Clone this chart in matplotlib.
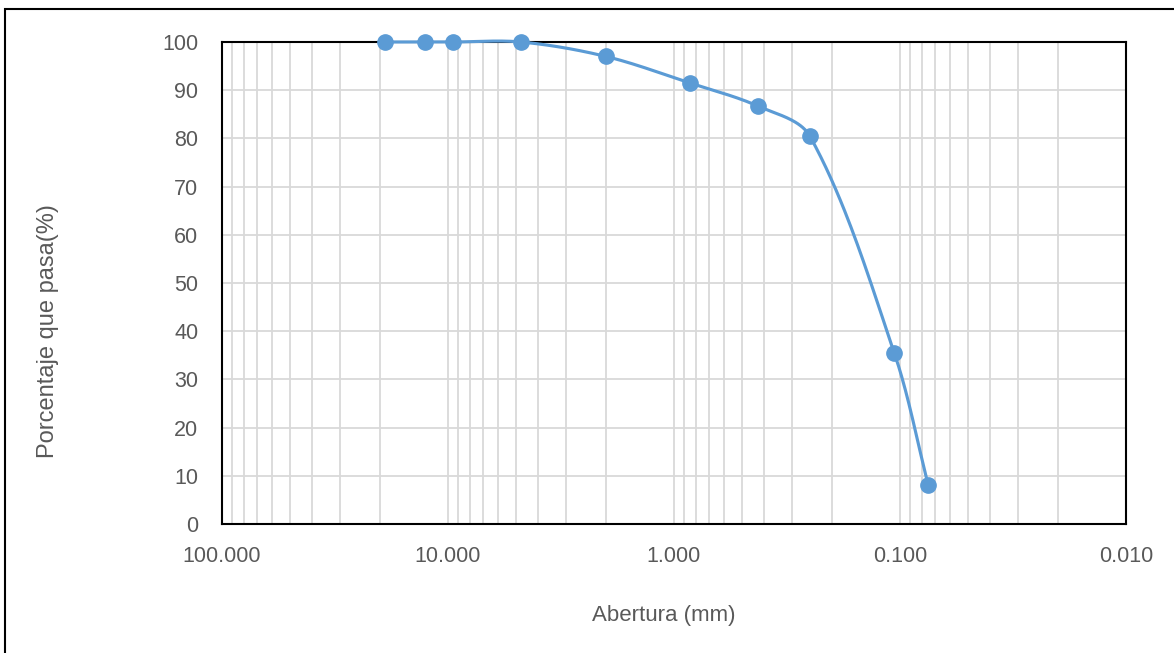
import numpy as np
import matplotlib
matplotlib.use("Agg")
import matplotlib.pyplot as plt
from matplotlib.ticker import FixedLocator, FuncFormatter, LogLocator, NullFormatter
from matplotlib.patches import Rectangle

# sieve openings (mm) and percent passing
abertura = [19.05, 12.7, 9.525, 4.75, 2.0, 0.85, 0.425, 0.25, 0.106, 0.075]
pasa = [100.0, 100.0, 100.0, 100.0, 97.0, 91.5, 86.7, 80.4, 35.5, 8.1]

xticks = [100, 10, 1, 0.1, 0.01]
yticks = list(range(0, 101, 10))

plt.rcParams['font.family'] = ['Liberation Sans', 'DejaVu Sans']
grey = '#595959'
blue = '#5B9BD5'

fig = plt.figure(figsize=(11.74, 6.53), dpi=100)
ax = fig.add_axes([222/1174, 1-524/653, (1126-222)/1174, (524-42)/653])

# smoothed line like excel (bezier, handles scaled by segment length)
sx = 226.0  # px per decade
sy = 4.82   # px per unit
px = np.log10(abertura) * sx
py = np.array(pasa) * sy
P = np.column_stack([px, py])
P = np.vstack([P[0], P, P[-1]])
curve = []
for i in range(1, len(P) - 2):
    p0, p1, p2, p3 = P[i-1], P[i], P[i+1], P[i+2]
    l0 = np.hypot(*(p1 - p0))
    l1 = np.hypot(*(p2 - p1))
    l2 = np.hypot(*(p3 - p2))
    c1 = p1 + (p2 - p0) * l1 / (l0 + l1) / 3.0
    c2 = p2 - (p3 - p1) * l1 / (l1 + l2) / 3.0
    t = np.linspace(0, 1, 40)[:, None]
    b = (1-t)**3*p1 + 3*(1-t)**2*t*c1 + 3*(1-t)*t**2*c2 + t**3*p2
    curve.append(b)
curve = np.vstack(curve)
ax.plot(10**(curve[:, 0]/sx), curve[:, 1]/sy, color=blue, lw=2.25, zorder=3,
        clip_on=False)
ax.plot(abertura, pasa, 'o', color=blue, ms=11, zorder=4, clip_on=False)

ax.set_xscale('log')
ax.set_xlim(100, 0.01)
ax.set_ylim(0, 100)
ax.xaxis.set_major_locator(FixedLocator(xticks))
ax.xaxis.set_major_formatter(FuncFormatter(lambda v, p: '%.3f' % v))
ax.xaxis.set_minor_locator(LogLocator(base=10, subs=np.arange(2, 10)))
ax.xaxis.set_minor_formatter(NullFormatter())
ax.set_yticks(yticks)

ax.grid(True, which='both', axis='x', color='#D9D9D9', lw=1.3, zorder=0)
ax.grid(True, which='major', axis='y', color='#D9D9D9', lw=1.3, zorder=0)
ax.set_axisbelow(True)
ax.tick_params(which='both', length=0, colors=grey, labelsize=15.5)
ax.tick_params(axis='x', pad=16)
ax.tick_params(axis='y', pad=17)
for s in ax.spines.values():
    s.set_color('black')
    s.set_linewidth(1.5)

ax.set_xlabel('Abertura (mm)', color=grey, fontsize=16)
ax.xaxis.set_label_coords((664-222)/(1126-222), -(605-524)/(524-42))
ax.set_ylabel('Porcentaje que pasa(%)', color=grey, fontsize=17)
ax.yaxis.set_label_coords(-(222-59)/(1126-222), (524-331)/(524-42))

fig.patches.append(Rectangle((5/1174, -0.1), 1.2, 1.1 - 9/653,
                             transform=fig.transFigure, fill=False,
                             edgecolor='black', lw=1.5))

fig.savefig('out.png', dpi=100)
